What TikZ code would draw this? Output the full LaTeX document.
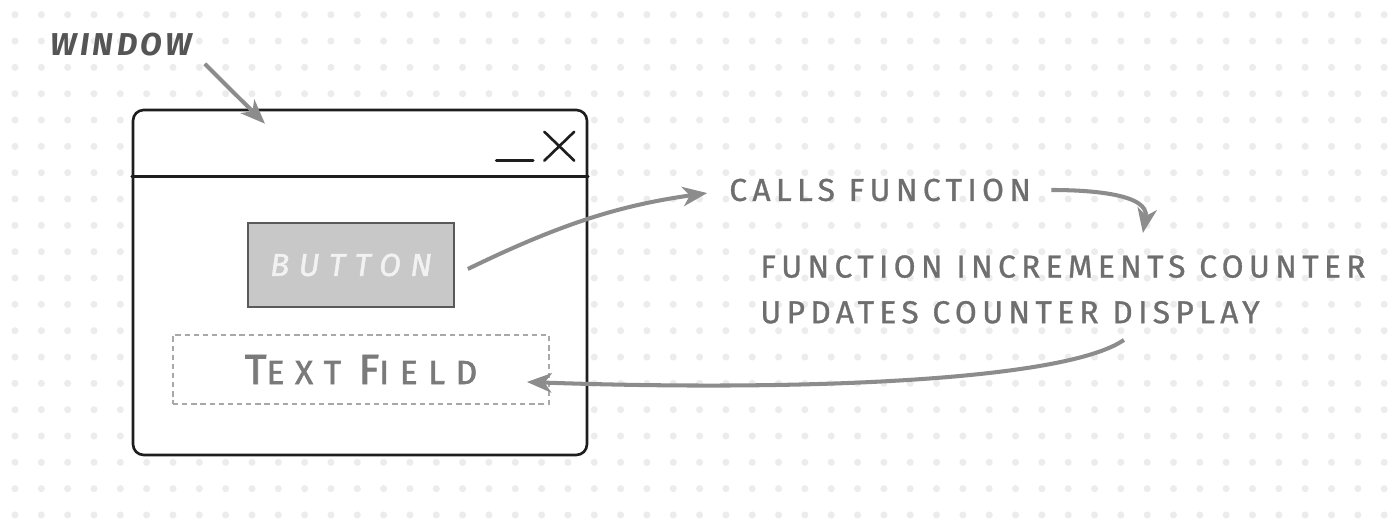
\documentclass[tikz,border=0pt]{standalone}
\usepackage{fontspec}
\setmainfont{Fira Sans}
\newfontfamily\handfont[LetterSpace=17,FakeBold=1]{Fira Sans}
\newfontfamily\tagfont[LetterSpace=11]{Fira Sans}
\newfontfamily\btnfont[LetterSpace=30,FakeBold=1.5]{Fira Sans}
\newfontfamily\fieldfont[LetterSpace=32,FakeBold=1.8]{Fira Sans}
\usetikzlibrary{arrows.meta}
\definecolor{dotgray}{HTML}{ECECEC}
\definecolor{inkgray}{HTML}{6E6E6E}
\definecolor{arrowgray}{HTML}{8C8C8C}
\definecolor{tagink}{HTML}{555555}
\definecolor{btnfill}{HTML}{C8C8C8}
\definecolor{btnedge}{HTML}{5A5A5A}
\definecolor{btnink}{HTML}{F2F2F2}
\definecolor{fieldedge}{HTML}{A8A8A8}
\definecolor{fieldink}{HTML}{7A7A7A}
\definecolor{winink}{HTML}{1E1E1E}
\tikzset{
  flow/.style={draw=arrowgray, line width=2.3pt, -{Stealth[length=14pt,width=11pt,inset=4pt]}},
  note/.style={text=inkgray, inner sep=0pt, font=\handfont\fontsize{18}{26}\selectfont},
  winline/.style={draw=winink, line width=1.5pt, line cap=round}
}
\begin{document}
\begin{tikzpicture}[x=0.02cm,y=0.02cm]
      \fill[white] (0,0) rectangle (1400,530);
      \useasboundingbox (0,0) rectangle (1400,530);
      \foreach \i in {0,...,52}
        \foreach \j in {0,...,19}
          \fill[dotgray] ({15+\i*26.33},{15+\j*26.33}) circle (2pt);
      \node (win) [winline, rounded corners=6pt, fill=white, inner sep=0pt,
        minimum width=90.8mm, minimum height=69mm] at (360,247.5) {};
      \node (btn) [draw=btnedge, fill=btnfill, line width=1pt, inner sep=0pt,
        minimum width=41.2mm, minimum height=16.8mm, text=btnink,
        font=\btnfont\itshape\fontsize{18}{20}\selectfont] at (351,265) {BUTTON};
      \node (fld) [draw=fieldedge, line width=1.1pt, dash pattern=on 3pt off 2.2pt,
        inner sep=0pt, minimum width=75.2mm, minimum height=13.8mm, text=fieldink,
        font=\fieldfont] at (361,160.5)
        {{\fontsize{24}{26}\selectfont T}{\fontsize{19}{26}\selectfont EXT}\hspace{10pt}{\fontsize{24}{26}\selectfont F}{\fontsize{19}{26}\selectfont IELD}};
      \node (lblwin) [text=tagink, inner sep=0pt, anchor=west,
        font=\tagfont\bfseries\itshape\fontsize{18}{20}\selectfont] at (50,485) {WINDOW};
      \node (calls) [note, anchor=west] at (729,340) {CALLS FUNCTION};
      \node (incr) [note, anchor=north west, align=left] at (760,275)
        {FUNCTION INCREMENTS COUNTER\\UPDATES COUNTER DISPLAY};
      \draw[winline] ([yshift=-13.6mm]win.north west) -- ([yshift=-13.6mm]win.north east);
      \draw[winline] ([shift={(-92,-52)}]win.north east) -- ++(37,0);
      \draw[winline] ([shift={(-44,-23)}]win.north east) -- ++(30,-29)
        ([shift={(-44,-52)}]win.north east) -- ++(30,29);
      \draw[flow] ([shift={(12,-7)}]lblwin.south east) -- ([shift={(-95,-15)}]win.north);
      \draw[flow, shorten >=4.4mm] ([shift={(13,-4)}]btn.east) to[out=26, in=188] (calls.west);
      \draw[flow] ([xshift=4mm]calls.east) to[out=0, in=80] ([shift={(80,22)}]incr.north);
      \draw[flow] ([shift={(61,-16)}]incr.south) to[out=215, in=-2, out looseness=0.3, in looseness=1.2] ([shift={(-23,-12.5)}]fld.east);
    \end{tikzpicture}
\end{document}
